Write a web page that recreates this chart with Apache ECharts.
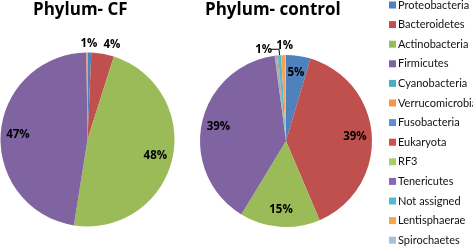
<!DOCTYPE html>
<html lang="en">
<head>
    <meta charset="UTF-8">
    <title>Phylum pies</title>
    <script src="https://cdn.jsdelivr.net/npm/echarts@6/dist/echarts.min.js"></script>
    <style>
        html, body { margin: 0; padding: 0; background: #fff; }
        #main { width: 473px; height: 250px; }
    </style>
</head>
<body>
<div id="main"></div>
<script>
    var categories = ['Proteobacteria', 'Bacteroidetes', 'Actinobacteria', 'Firmicutes', 'Cyanobacteria',
        'Verrucomicrobia', 'Fusobacteria', 'Eukaryota', 'RF3', 'Tenericutes', 'Not assigned',
        'Lentisphaerae', 'Spirochaetes'];
    var cfValues = [0.7, 4.2, 47.6, 47.3, 0, 0.2, 0, 0, 0, 0, 0, 0, 0];
    var controlValues = [4.6, 39.0, 15.1, 39.2, 0.1, 0.1, 0.1, 0.1, 0.1, 0.1, 0.6, 0.8, 0.1];
    var titles = ['Phylum- CF', 'Phylum- control'];

    var colors = ['#4f81bd', '#c0504d', '#9bbb59', '#8064a2', '#4bacc6', '#f79646', '#5b8fcf',
        '#cf4f4c', '#a9cd6b', '#8a67b5', '#4dbbd5', '#f9a24f', '#a8bfdf'];

    // pie geometry (px)
    var pies = [
        {cx: 87.5, cy: 139.5, r: 87, titleX: 33},
        {cx: 286, cy: 141, r: 86, titleX: 205}
    ];
    // small nudges for the outside labels, like excel spreads them
    var nudges = [
        {0: [-10, -5], 1: [-1, -5]},
        {10: [2, 0], 11: [11, -5]}
    ];
    var labelFont = 'Open Sans';

    function buildData(values, leader) {
        return categories.map(function (name, i) {
            var v = values[i];
            var item = {name: name, value: v, itemStyle: {color: colors[i]}};
            if (v < 0.5) {
                item.label = {show: false};
                item.labelLine = {show: false};
            } else if (v < 4.5) {
                item.label = {position: 'outside', distanceToLabelLine: 1};
                item.labelLine = leader === i ? {show: true, length: 6, length2: 8, lineStyle: {color: '#000', width: 1}}
                    : {show: false, length: 4, length2: 0};
            }
            return item;
        });
    }

    // excel puts inside labels at ~0.77 r instead of 0.5 r
    function pushOut(idx, values) {
        var pie = pies[idx];
        return function (p) {
            var v = values[p.dataIndex];
            if (v < 4.5) {
                var n = nudges[idx][p.dataIndex];
                return n ? {dx: n[0], dy: n[1]} : {};
            }
            var lx = p.labelRect.x + p.labelRect.width / 2;
            var ly = p.labelRect.y + p.labelRect.height / 2;
            var k = 1.5;
            return {dx: (lx - pie.cx) * (k - 1), dy: (ly - pie.cy) * (k - 1)};
        };
    }

    function pieSeries(idx, values, leader) {
        var pie = pies[idx];
        return {
            type: 'pie',
            name: titles[idx],
            center: [pie.cx, pie.cy],
            radius: [0, pie.r],
            startAngle: 90,
            clockwise: true,
            avoidLabelOverlap: false,
            emphasis: {disabled: true},
            itemStyle: {borderWidth: 0},
            label: {
                show: true,
                position: 'inside',
                color: '#000',
                fontFamily: labelFont,
                fontWeight: 'bold',
                fontSize: 11.5,
                formatter: function (p) { return Math.round(p.value) + '%'; }
            },
            labelLayout: pushOut(idx, values),
            data: buildData(values, leader)
        };
    }

    var myChart = echarts.init(document.getElementById('main'));
    myChart.setOption({
        animation: false,
        backgroundColor: '#fff',
        title: titles.map(function (t, i) {
            return {
                text: t,
                left: pies[i].titleX,
                top: 2,
                padding: 0,
                textStyle: {fontFamily: labelFont, fontWeight: 'bold', fontSize: 17, color: '#000'}
            };
        }),
        legend: {
            orient: 'vertical',
            left: 389,
            top: -1,
            padding: 0,
            data: categories,
            icon: 'rect',
            itemWidth: 7,
            itemHeight: 7,
            itemGap: 7.6,
            textStyle: {fontFamily: 'Lato', fontSize: 11, color: '#111', lineHeight: 12, padding: [0, 0, 0, -3]}
        },
        series: [
            pieSeries(0, cfValues, -1),
            pieSeries(1, controlValues, 10)
        ]
    });
</script>
</body>
</html>
